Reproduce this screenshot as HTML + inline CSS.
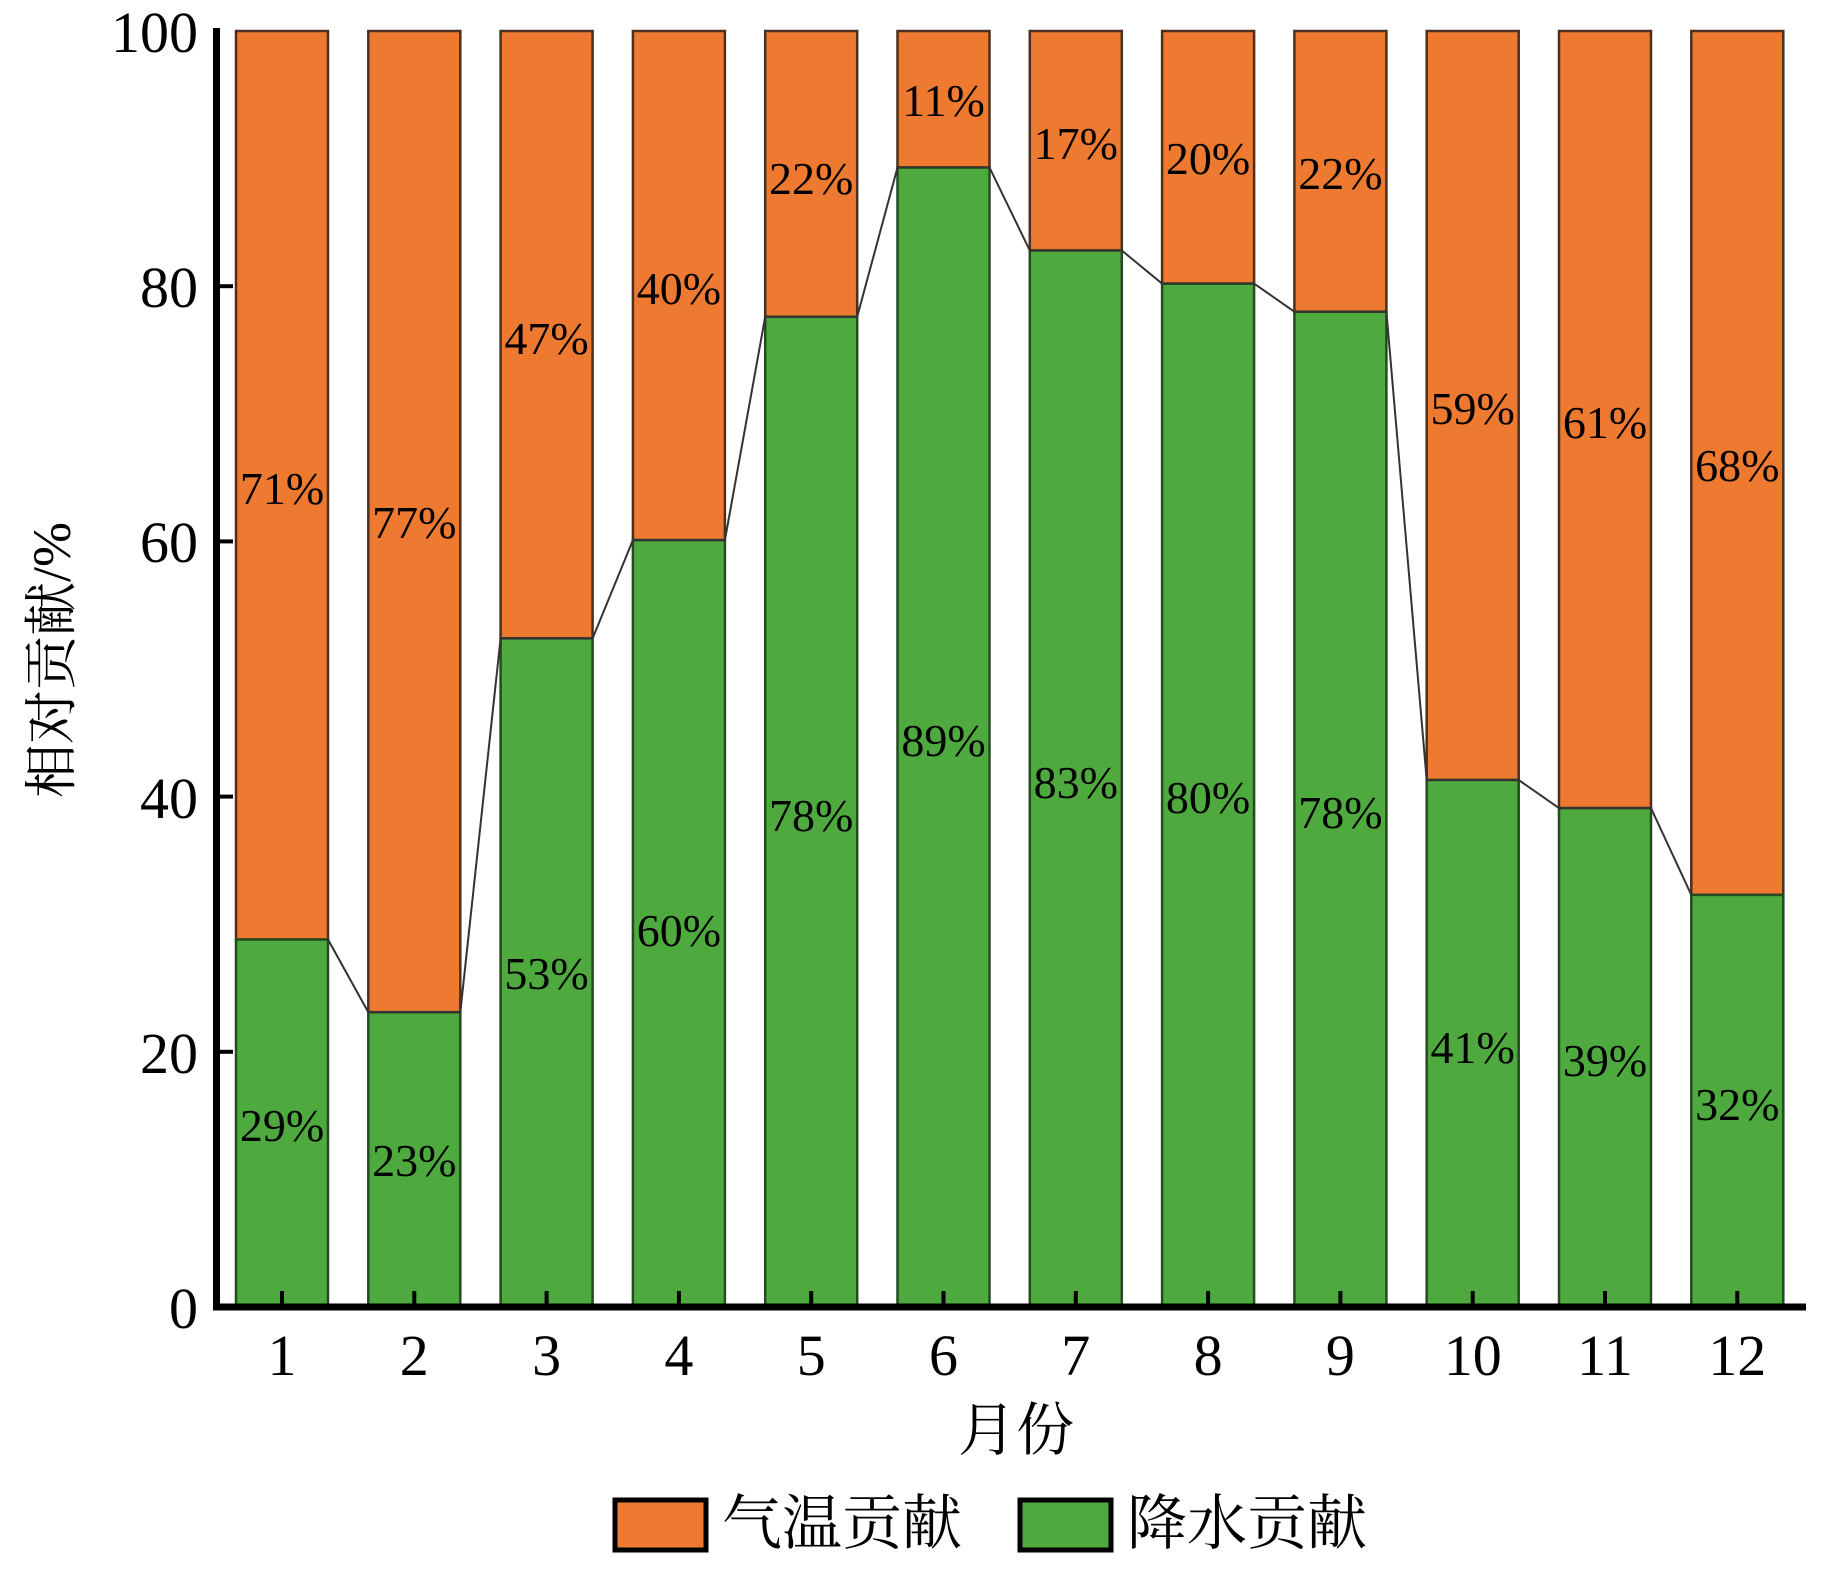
<!DOCTYPE html>
<html><head><meta charset="utf-8"><style>html,body{margin:0;padding:0;background:#fff}svg text{font-family:"Liberation Serif","Noto Serif CJK SC",serif}</style></head>
<body>
<svg width="1824" height="1568" viewBox="0 0 1824 1568" xmlns="http://www.w3.org/2000/svg" font-family="'Liberation Serif', 'Noto Serif CJK SC', serif">
<g stroke-width="2.5">
<rect x="236" y="31" width="92" height="908.5" fill="#ED7A30" stroke="#4a3020"/><rect x="236" y="939.5" width="92" height="367.5" fill="#4EAA3F" stroke="#244a20"/>
<rect x="368.3" y="31" width="92" height="981.2" fill="#ED7A30" stroke="#4a3020"/><rect x="368.3" y="1012.2" width="92" height="294.8" fill="#4EAA3F" stroke="#244a20"/>
<rect x="500.6" y="31" width="92" height="607.4" fill="#ED7A30" stroke="#4a3020"/><rect x="500.6" y="638.4" width="92" height="668.6" fill="#4EAA3F" stroke="#244a20"/>
<rect x="632.9" y="31" width="92" height="509.1" fill="#ED7A30" stroke="#4a3020"/><rect x="632.9" y="540.1" width="92" height="766.9" fill="#4EAA3F" stroke="#244a20"/>
<rect x="765.2" y="31" width="92" height="285.8" fill="#ED7A30" stroke="#4a3020"/><rect x="765.2" y="316.8" width="92" height="990.2" fill="#4EAA3F" stroke="#244a20"/>
<rect x="897.5" y="31" width="92" height="136.5" fill="#ED7A30" stroke="#4a3020"/><rect x="897.5" y="167.5" width="92" height="1139.5" fill="#4EAA3F" stroke="#244a20"/>
<rect x="1029.8" y="31" width="92" height="219.5" fill="#ED7A30" stroke="#4a3020"/><rect x="1029.8" y="250.5" width="92" height="1056.5" fill="#4EAA3F" stroke="#244a20"/>
<rect x="1162.1" y="31" width="92" height="252.6" fill="#ED7A30" stroke="#4a3020"/><rect x="1162.1" y="283.6" width="92" height="1023.4" fill="#4EAA3F" stroke="#244a20"/>
<rect x="1294.4" y="31" width="92" height="280.7" fill="#ED7A30" stroke="#4a3020"/><rect x="1294.4" y="311.7" width="92" height="995.3" fill="#4EAA3F" stroke="#244a20"/>
<rect x="1426.7" y="31" width="92" height="749" fill="#ED7A30" stroke="#4a3020"/><rect x="1426.7" y="780" width="92" height="527" fill="#4EAA3F" stroke="#244a20"/>
<rect x="1559" y="31" width="92" height="777.1" fill="#ED7A30" stroke="#4a3020"/><rect x="1559" y="808.1" width="92" height="498.9" fill="#4EAA3F" stroke="#244a20"/>
<rect x="1691.3" y="31" width="92" height="863.9" fill="#ED7A30" stroke="#4a3020"/><rect x="1691.3" y="894.9" width="92" height="412.1" fill="#4EAA3F" stroke="#244a20"/>
</g>
<polyline fill="none" stroke="#333" stroke-width="2" points="328,939.5 368.3,1012.2 460.3,1012.2 500.6,638.4 592.6,638.4 632.9,540.1 724.9,540.1 765.2,316.8 857.2,316.8 897.5,167.5 989.5,167.5 1029.8,250.5 1121.8,250.5 1162.1,283.6 1254.1,283.6 1294.4,311.7 1386.4,311.7 1426.7,780 1518.7,780 1559,808.1 1651,808.1 1691.3,894.9"/>
<g font-size="46" text-anchor="middle">
<text x="282" y="504">71%</text><text x="282" y="1141">29%</text>
<text x="414.3" y="538">77%</text><text x="414.3" y="1176">23%</text>
<text x="546.6" y="354">47%</text><text x="546.6" y="989">53%</text>
<text x="678.9" y="304">40%</text><text x="678.9" y="946">60%</text>
<text x="811.2" y="194">22%</text><text x="811.2" y="831">78%</text>
<text x="943.5" y="116">11%</text><text x="943.5" y="756">89%</text>
<text x="1075.8" y="159">17%</text><text x="1075.8" y="798">83%</text>
<text x="1208.1" y="174">20%</text><text x="1208.1" y="813">80%</text>
<text x="1340.4" y="189">22%</text><text x="1340.4" y="828">78%</text>
<text x="1472.7" y="424">59%</text><text x="1472.7" y="1063">41%</text>
<text x="1605" y="438">61%</text><text x="1605" y="1076">39%</text>
<text x="1737.3" y="481">68%</text><text x="1737.3" y="1120">32%</text>
</g>
<g stroke="#000" stroke-width="4">
<line x1="282" y1="1307" x2="282" y2="1291"/><line x1="414.3" y1="1307" x2="414.3" y2="1291"/><line x1="546.6" y1="1307" x2="546.6" y2="1291"/><line x1="678.9" y1="1307" x2="678.9" y2="1291"/><line x1="811.2" y1="1307" x2="811.2" y2="1291"/><line x1="943.5" y1="1307" x2="943.5" y2="1291"/><line x1="1075.8" y1="1307" x2="1075.8" y2="1291"/><line x1="1208.1" y1="1307" x2="1208.1" y2="1291"/><line x1="1340.4" y1="1307" x2="1340.4" y2="1291"/><line x1="1472.7" y1="1307" x2="1472.7" y2="1291"/><line x1="1605" y1="1307" x2="1605" y2="1291"/><line x1="1737.3" y1="1307" x2="1737.3" y2="1291"/>
<line x1="217" y1="1051.8" x2="233" y2="1051.8"/><line x1="217" y1="796.6" x2="233" y2="796.6"/><line x1="217" y1="541.4" x2="233" y2="541.4"/><line x1="217" y1="286.2" x2="233" y2="286.2"/>
</g>
<g font-size="58" text-anchor="middle">
<text x="282" y="1375">1</text><text x="414.3" y="1375">2</text><text x="546.6" y="1375">3</text><text x="678.9" y="1375">4</text><text x="811.2" y="1375">5</text><text x="943.5" y="1375">6</text><text x="1075.8" y="1375">7</text><text x="1208.1" y="1375">8</text><text x="1340.4" y="1375">9</text><text x="1472.7" y="1375">10</text><text x="1605" y="1375">11</text><text x="1737.3" y="1375">12</text>
</g>
<g font-size="58" text-anchor="end">
<text x="198" y="1328">0</text><text x="198" y="1073">20</text><text x="198" y="818">40</text><text x="198" y="562">60</text><text x="198" y="307">80</text><text x="198" y="52">100</text>
</g>
<path d="M216.5 28 V1307 H1806" fill="none" stroke="#000" stroke-width="7"/>
<text transform="translate(70,660) rotate(-90)" font-size="54" text-anchor="middle">相对贡献/%</text>
<text x="1016" y="1450" font-size="58" text-anchor="middle">月份</text>
<rect x="615" y="1500" width="91" height="50" fill="#ED7A30" stroke="#000" stroke-width="5"/>
<text x="722" y="1544" font-size="60">气温贡献</text>
<rect x="1020" y="1500" width="91" height="50" fill="#4EAA3F" stroke="#000" stroke-width="5"/>
<text x="1127" y="1544" font-size="60">降水贡献</text>
</svg>
</body></html>
